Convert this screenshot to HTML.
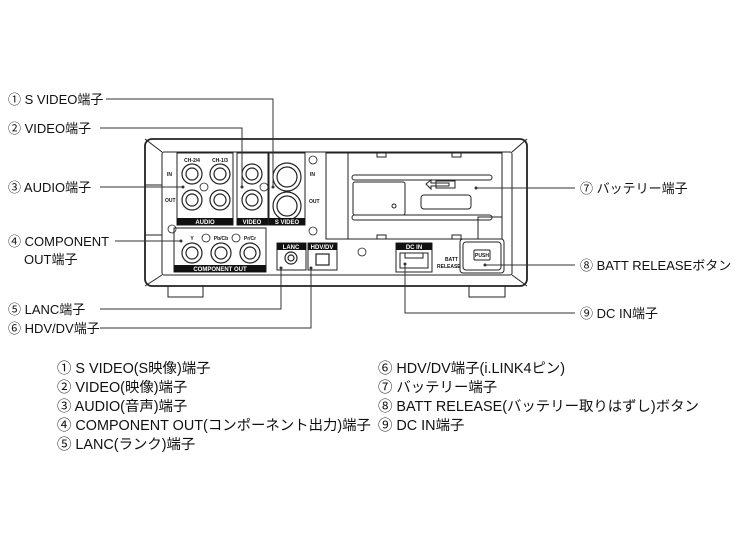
<!DOCTYPE html>
<html><head><meta charset="utf-8"><style>
html,body{margin:0;padding:0;background:#fff;}
svg{display:block;}
text{font-family:"Liberation Sans","Noto Sans CJK JP",sans-serif;fill:#111;}
.lb{font-size:13px;}
.bl{font-size:14.4px;}
.sm{font-size:5px;font-weight:bold;}
.wl{fill:#fff;font-size:6px;font-weight:bold;}
</style></head><body>
<svg width="740" height="555" viewBox="0 0 740 555" xmlns="http://www.w3.org/2000/svg">
<g fill="none" stroke="#222" stroke-width="1">
<path d="M168 284 V297 H203 V284" fill="#fff"/>
<path d="M469 284 V297 H505 V284" fill="#fff"/>
<rect x="145" y="139" width="382" height="147" rx="7" fill="#fff" stroke-width="1.8"/>
<rect x="162" y="152" width="350" height="123" rx="2"/>
<path d="M145 139 L162 152 M527 139 L512 152 M145 286 L162 275 M527 286 L512 275"/>
<line x1="145" y1="185" x2="162" y2="185"/><line x1="145" y1="235" x2="162" y2="235"/>
<rect x="177" y="153" width="56" height="72"/>
<rect x="237" y="153" width="31" height="72"/>
<rect x="269" y="153" width="36" height="72"/>
<rect x="174" y="228" width="92" height="44"/>
<rect x="277" y="243" width="29" height="27"/>
<rect x="308" y="243" width="29" height="27"/>
<rect x="396" y="243" width="36" height="29"/>
<rect x="326" y="153" width="176" height="86"/>
<line x1="348" y1="153" x2="348" y2="239"/>
<rect x="352" y="175" width="140" height="5" rx="2.5"/>
<rect x="352" y="215" width="140" height="5" rx="2.5"/>
<rect x="353" y="182" width="52" height="33" rx="2"/>
<circle cx="394" cy="206" r="2"/>
<rect x="421" y="195" width="50" height="14" rx="3"/>
<path d="M426 184 L431 180 V183 H449 V186 H431 V189 Z"/>
<rect x="436" y="181" width="19" height="7"/>
<path d="M377 153 V157 H386 V153 M452 153 V157 H461 V153 M377 239 V235 H386 V239 M452 239 V235 H461 V239"/>
<path d="M478 239 V217 H502"/>
<rect x="463" y="242" width="38" height="28" rx="3"/>
<rect x="460" y="239" width="44" height="34" rx="3"/>
<rect x="474" y="250" width="16" height="10" rx="1"/>
<rect x="400" y="253" width="28" height="15"/>
<path d="M405 253 V258 H423 V253"/>
<g stroke-width="1.2">
<circle cx="192" cy="174" r="10"/><circle cx="192" cy="174" r="6"/>
<circle cx="220" cy="174" r="10"/><circle cx="220" cy="174" r="6"/>
<circle cx="192" cy="200" r="10"/><circle cx="192" cy="200" r="6"/>
<circle cx="220" cy="200" r="10"/><circle cx="220" cy="200" r="6"/>
<circle cx="252" cy="174" r="10"/><circle cx="252" cy="174" r="6"/>
<circle cx="252" cy="200" r="10"/><circle cx="252" cy="200" r="6"/>
<circle cx="287" cy="177" r="14"/><circle cx="287" cy="177" r="10"/>
<circle cx="287" cy="206" r="14"/><circle cx="287" cy="206" r="10"/>
<circle cx="192" cy="253" r="10"/><circle cx="192" cy="253" r="6"/>
<circle cx="221" cy="253" r="10"/><circle cx="221" cy="253" r="6"/>
<circle cx="250" cy="253" r="10"/><circle cx="250" cy="253" r="6"/>
<circle cx="291" cy="258" r="6"/><circle cx="291" cy="258" r="3"/>
<rect x="316" y="254" width="13" height="11"/>
</g>
<g stroke-width="0.8">
<circle cx="204" cy="187" r="4"/><circle cx="264" cy="187" r="4"/><circle cx="313" cy="160" r="4"/>
<circle cx="313" cy="231" r="4"/><circle cx="172" cy="229" r="4"/><circle cx="206" cy="238" r="4"/>
<circle cx="236" cy="238" r="4"/><circle cx="362" cy="252" r="4"/>
</g>
</g>
<g fill="#111">
<rect x="177" y="218" width="56" height="7"/><rect x="237" y="218" width="31" height="7"/>
<rect x="269" y="218" width="36" height="7"/><rect x="174" y="265" width="92" height="7"/>
<rect x="277" y="243" width="29" height="7"/><rect x="308" y="243" width="29" height="7"/>
<rect x="396" y="243" width="36" height="7"/>
</g>
<text class="wl" x="205" y="224" text-anchor="middle">AUDIO</text>
<text class="wl" x="252" y="224" text-anchor="middle">VIDEO</text>
<text class="wl" x="287" y="224" text-anchor="middle">S VIDEO</text>
<text class="wl" x="220" y="271" text-anchor="middle">COMPONENT OUT</text>
<text class="wl" x="291" y="249" text-anchor="middle">LANC</text>
<text class="wl" x="322" y="249" text-anchor="middle">HDV/DV</text>
<text class="wl" x="414" y="249" text-anchor="middle">DC IN</text>
<text class="sm" x="192" y="162" text-anchor="middle">CH-2/4</text>
<text class="sm" x="220" y="162" text-anchor="middle">CH-1/3</text>
<text class="sm" x="167" y="176">IN</text><text class="sm" x="165" y="202">OUT</text>
<text class="sm" x="310" y="176">IN</text><text class="sm" x="309" y="203">OUT</text>
<text class="sm" x="192" y="240" text-anchor="middle">Y</text>
<text class="sm" x="221" y="240" text-anchor="middle">Pb/Cb</text>
<text class="sm" x="250" y="240" text-anchor="middle">Pr/Cr</text>
<text class="sm" x="445" y="261">BATT</text><text class="sm" x="437" y="268">RELEASE</text>
<text class="sm" x="482" y="257" text-anchor="middle">PUSH</text>
<g fill="none" stroke="#333" stroke-width="1">
<path d="M106 99 H273 V187"/>
<path d="M100 128 H242 V187"/>
<path d="M100 187 H183"/>
<path d="M115 241 H181"/>
<path d="M100 309 H281 V268"/>
<path d="M100 328 H311 V268"/>
<path d="M476 188 H575"/>
<path d="M485 265 H575"/>
<path d="M405 264 V313 H575"/>
</g>
<g fill="#333">
<circle cx="273" cy="187" r="1.5"/><circle cx="242" cy="187" r="1.5"/><circle cx="183" cy="187" r="1.5"/>
<circle cx="181" cy="241" r="1.5"/><circle cx="281" cy="268" r="1.5"/><circle cx="311" cy="268" r="1.5"/>
<circle cx="476" cy="188" r="1.5"/><circle cx="485" cy="265" r="1.5"/><circle cx="405" cy="264" r="1.5"/>
</g>
<g class="lb">
<text x="8" y="104">① S VIDEO端子</text>
<text x="8" y="133">② VIDEO端子</text>
<text x="8" y="192">③ AUDIO端子</text>
<text x="8" y="246">④ COMPONENT</text>
<text x="24" y="264">OUT端子</text>
<text x="8" y="314">⑤ LANC端子</text>
<text x="8" y="333">⑥ HDV/DV端子</text>
<text x="580" y="193">⑦ バッテリー端子</text>
<text x="580" y="270">⑧ BATT RELEASEボタン</text>
<text x="580" y="318">⑨ DC IN端子</text>
</g>
<g class="bl">
<text x="57" y="373">① S VIDEO(S映像)端子</text>
<text x="57" y="392">② VIDEO(映像)端子</text>
<text x="57" y="411">③ AUDIO(音声)端子</text>
<text x="57" y="430">④ COMPONENT OUT(コンポーネント出力)端子</text>
<text x="57" y="449">⑤ LANC(ランク)端子</text>
<text x="378" y="373">⑥ HDV/DV端子(i.LINK4ピン)</text>
<text x="378" y="392">⑦ バッテリー端子</text>
<text x="378" y="411">⑧ BATT RELEASE(バッテリー取りはずし)ボタン</text>
<text x="378" y="430">⑨ DC IN端子</text>
</g>
</svg>
</body></html>
